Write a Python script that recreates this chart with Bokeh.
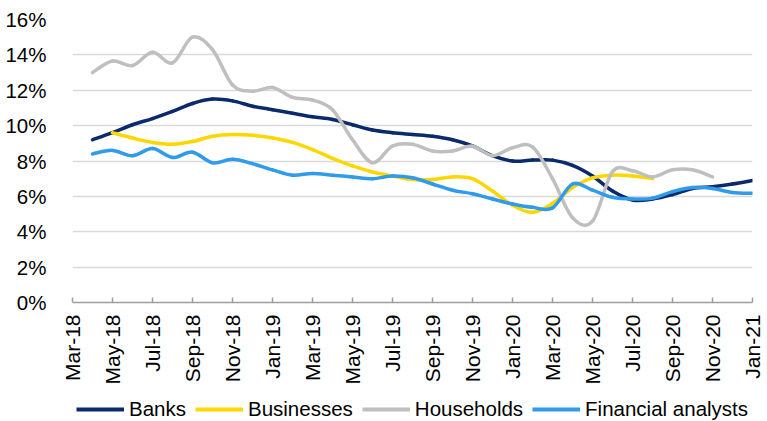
import numpy as np
from bokeh.plotting import figure
from bokeh.layouts import column
from bokeh.models import (FixedTicker, PrintfTickFormatter, Legend, LegendItem,
                          Range1d, ColumnDataSource)
from bokeh.embed import file_html
from bokeh.resources import INLINE

# ---- data -------------------------------------------------------------
months = ["Mar-18", "Apr-18", "May-18", "Jun-18", "Jul-18", "Aug-18", "Sep-18",
          "Oct-18", "Nov-18", "Dec-18", "Jan-19", "Feb-19", "Mar-19", "Apr-19",
          "May-19", "Jun-19", "Jul-19", "Aug-19", "Sep-19", "Oct-19", "Nov-19",
          "Dec-19", "Jan-20", "Feb-20", "Mar-20", "Apr-20", "May-20", "Jun-20",
          "Jul-20", "Aug-20", "Sep-20", "Oct-20", "Nov-20", "Dec-20", "Jan-21"]

tick_labels = ["Mar-18", "May-18", "Jul-18", "Sep-18", "Nov-18", "Jan-19",
               "Mar-19", "May-19", "Jul-19", "Sep-19", "Nov-19", "Jan-20",
               "Mar-20", "May-20", "Jul-20", "Sep-20", "Nov-20", "Jan-21"]

banks = [None, 9.2, 9.6, 10.05, 10.4, 10.8, 11.25, 11.5, 11.4, 11.1, 10.9,
         10.7, 10.5, 10.35, 10.05, 9.75, 9.6, 9.5, 9.4, 9.2, 8.85, 8.3, 8.0,
         8.05, 8.05, 7.75, 7.15, 6.3, 5.8, 5.85, 6.1, 6.45, 6.55, 6.7, 6.9]

businesses = [None, None, 9.6, 9.3, 9.05, 8.95, 9.1, 9.4, 9.5, 9.45, 9.3,
              9.05, 8.65, 8.15, 7.72, 7.38, 7.15, 6.95, 6.95, 7.1, 7.0, 6.3,
              5.5, 5.1, 5.6, 6.5, 7.05, 7.2, 7.15, 7.0, None, None, None,
              None, None]

households = [None, 13.0, 13.65, 13.4, 14.15, 13.55, 15.0, 14.3, 12.3, 11.95,
              12.15, 11.6, 11.45, 10.9, 9.2, 7.9, 8.85, 8.95, 8.56, 8.56,
              8.84, 8.3, 8.75, 8.8, 7.0, 4.8, 4.6, 7.4, 7.45, 7.1, 7.5, 7.5,
              7.1, None, None]

financial = [None, 8.4, 8.6, 8.3, 8.7, 8.2, 8.5, 7.9, 8.1, 7.85, 7.5, 7.2,
             7.3, 7.2, 7.1, 7.0, 7.15, 7.05, 6.7, 6.35, 6.15, 5.85, 5.57,
             5.38, 5.35, 6.7, 6.35, 5.95, 5.85, 5.9, 6.27, 6.5, 6.45, 6.22,
             6.17]

series_names = ["Banks", "Businesses", "Households", "Financial analysts"]
series_values = [banks, businesses, households, financial]
series_colors = ["#0B2A6B", "#FFD700", "#BFBFBF", "#2F9BEA"]

FONT = "Liberation Sans"
LEG_H = 34
TOTAL_W, TOTAL_H = 767, 421


def smooth_segments(values):
    """Bezier segments (Catmull-Rom style, like a spreadsheet's smoothed line)."""
    xs = np.array([i for i, v in enumerate(values) if v is not None], float)
    ys = np.array([v for v in values if v is not None], float)
    n = len(xs)
    d = dict(x0=[], y0=[], x1=[], y1=[], cx0=[], cy0=[], cx1=[], cy1=[])
    for i in range(n - 1):
        a = i - 1 if i > 0 else i
        b = i + 2 if i + 2 < n else i + 1
        d["x0"].append(xs[i]); d["y0"].append(ys[i])
        d["x1"].append(xs[i + 1]); d["y1"].append(ys[i + 1])
        d["cx0"].append(xs[i] + (xs[i + 1] - xs[a]) / 6.0)
        d["cy0"].append(ys[i] + (ys[i + 1] - ys[a]) / 6.0)
        d["cx1"].append(xs[i + 1] - (xs[b] - xs[i]) / 6.0)
        d["cy1"].append(ys[i + 1] - (ys[b] - ys[i]) / 6.0)
    return ColumnDataSource(d)


p = figure(width=TOTAL_W, height=TOTAL_H - LEG_H,
           x_range=Range1d(0, len(months) - 1), y_range=Range1d(0, 16),
           output_backend="svg", toolbar_location=None,
           min_border_left=72, min_border_right=15,
           min_border_top=19, min_border_bottom=TOTAL_H - LEG_H - 304)
p.outline_line_color = None

# y axis
p.yaxis.ticker = FixedTicker(ticks=list(range(0, 17, 2)))
p.yaxis.formatter = PrintfTickFormatter(format="%d%%")
p.yaxis.axis_line_color = None
p.yaxis.major_tick_line_color = None
p.yaxis.minor_tick_line_color = None
p.yaxis.major_label_standoff = 20
p.yaxis.major_label_text_font = FONT
p.yaxis.major_label_text_font_size = "20.5px"
p.yaxis.major_label_text_color = "#000000"

# x axis
tick_pos = [months.index(t) for t in tick_labels]
p.xaxis.ticker = FixedTicker(ticks=tick_pos)
p.xaxis.major_label_overrides = {i: months[i] for i in tick_pos}
p.xaxis.major_label_orientation = np.pi / 2
p.xaxis.axis_line_color = "#9E9E9E"
p.xaxis.axis_line_width = 1.5
p.xaxis.major_tick_line_color = "#9E9E9E"
p.xaxis.major_tick_line_width = 1.5
p.xaxis.major_tick_in = 5
p.xaxis.major_tick_out = 0
p.xaxis.minor_tick_line_color = None
p.xaxis.major_label_standoff = 12
p.xaxis.major_label_text_font = FONT
p.xaxis.major_label_text_font_size = "21px"
p.xaxis.major_label_text_color = "#000000"

p.xgrid.grid_line_color = None
p.ygrid.grid_line_color = "#D9D9D9"
p.ygrid.grid_line_width = 1.5

for vals, col in zip(series_values, series_colors):
    src = smooth_segments(vals)
    p.bezier(x0="x0", y0="y0", x1="x1", y1="y1", cx0="cx0", cy0="cy0",
             cx1="cx1", cy1="cy1", source=src, line_color=col,
             line_width=3.5, line_cap="round")

# ---- legend strip below the chart --------------------------------------
pl = figure(width=TOTAL_W, height=LEG_H, x_range=Range1d(0, 1),
            y_range=Range1d(0, 1), x_axis_type=None, y_axis_type=None,
            output_backend="svg", toolbar_location=None,
            min_border_left=72, min_border_right=15,
            min_border_top=0, min_border_bottom=0)
pl.outline_line_color = None
pl.xgrid.grid_line_color = None
pl.ygrid.grid_line_color = None

items = []
for name, col in zip(series_names, series_colors):
    # legend sample only: drawn outside the visible ranges
    r = pl.line(x=[5, 6], y=[5, 6], line_color=col, line_width=4)
    items.append(LegendItem(label=name, renderers=[r]))

legend = Legend(items=items, location=(4, 0), orientation="horizontal",
                glyph_width=48, glyph_height=20, label_standoff=5, spacing=9,
                padding=0, margin=0, border_line_color=None,
                background_fill_alpha=0, label_text_font=FONT,
                label_text_font_size="20.5px", label_text_color="#000000")
pl.add_layout(legend, "center")

layout = column(p, pl, spacing=0)
open("out.html", "w").write(file_html(layout, INLINE))
